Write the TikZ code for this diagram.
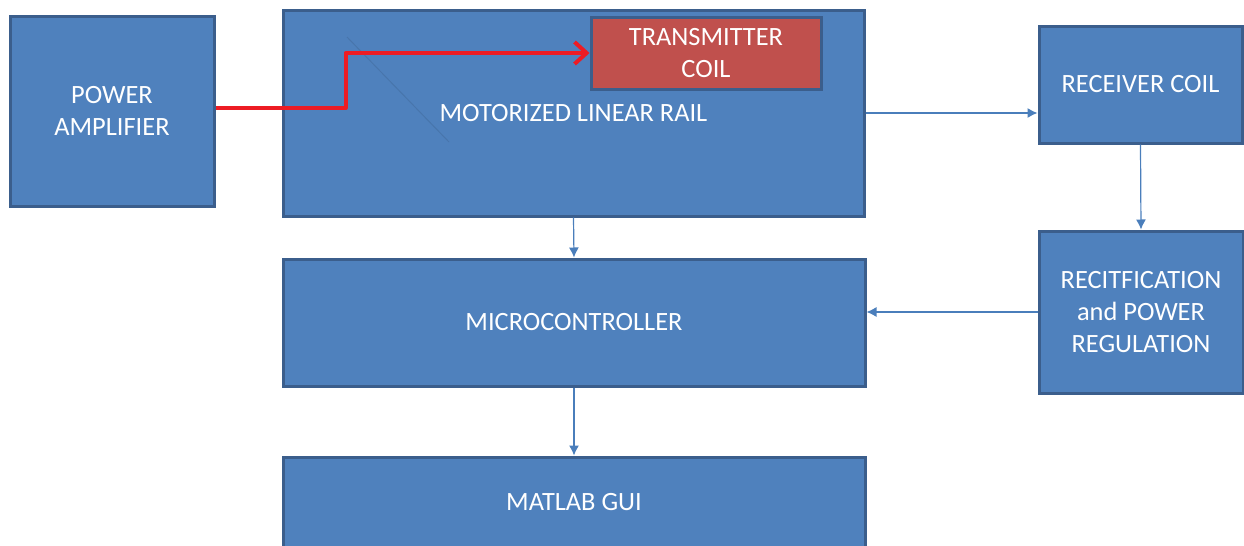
\documentclass[tikz,border=0pt]{standalone}
\usepackage{fontspec}
\setmainfont{Carlito}
\usetikzlibrary{arrows.meta}

\definecolor{boxblue}{HTML}{4F81BD}
\definecolor{boxedge}{HTML}{3B5E8C}
\definecolor{coilred}{HTML}{C0504D}
\definecolor{wirered}{HTML}{ED1C24}
\definecolor{linkblue}{HTML}{4A7EBB}

\tikzset{
	block/.style={draw=boxedge, line width=1.5pt, fill=boxblue, text=white,
		font=\fontsize{13.2}{16}\selectfont, align=center, inner sep=0pt},
	coilbox/.style={block, fill=coilred},
	link/.style={draw=linkblue, line width=0.6pt, -{Latex[length=5pt,width=5pt]}},
	wire/.style={draw=wirered, line width=2pt, line join=round,
		-{Straight Barb[length=6pt,width=11pt,line width=2pt]}}
}

\begin{document}
\begin{tikzpicture}[x=0.5pt,y=-0.5pt]
	\useasboundingbox (0,0) rectangle (1244,546);
	\clip (0,0) rectangle (1244,546);
	% blocks, pixel positions of the sketch (sizes in pt = px/2)
	\node[block, minimum width=102pt, minimum height=95pt] (amp) at (112,111) {POWER\\AMPLIFIER};
	\node[block, minimum width=290.5pt, minimum height=103pt] (rail) at (573.5,113) {MOTORIZED LINEAR RAIL};
	\draw[boxedge!35!boxblue, line width=0.5pt] (347,37) -- (449,142); % faint stroke
	\node[coilbox, minimum width=115pt, minimum height=36pt] (coil) at (706,53) {TRANSMITTER\\COIL};
	\node[block, minimum width=101.5pt, minimum height=58.5pt] (rx) at (1140.5,84.5) {RECEIVER COIL};
	\node[block, minimum width=102pt, minimum height=81pt] (rect) at (1141,312) {RECITFICATION\\and POWER\\REGULATION};
	\node[block, minimum width=291pt, minimum height=63.5pt] (mcu) at (574,322.5) {MICROCONTROLLER};
	\node[block, minimum width=291pt, minimum height=80pt] (gui) at (574,537) {};
	\node[text=white, font=\fontsize{13.2}{16}\selectfont] (guitext) at (574,502) {MATLAB GUI};
	% connections
	\draw[wire] ([yshift=1.5pt]amp.east) -- ++(130,0) |- (coil.west);
	\draw[link] (rail.east) -- (rail.east -| rx.west);
	\draw[link] (rx.south) -- (rect.north);
	\draw[link] (rect.west) -- (rect.west -| mcu.east);
	\draw[link] (rail.south) -- (mcu.north);
	\draw[link] (mcu.south) -- (gui.north);
\end{tikzpicture}
\end{document}
